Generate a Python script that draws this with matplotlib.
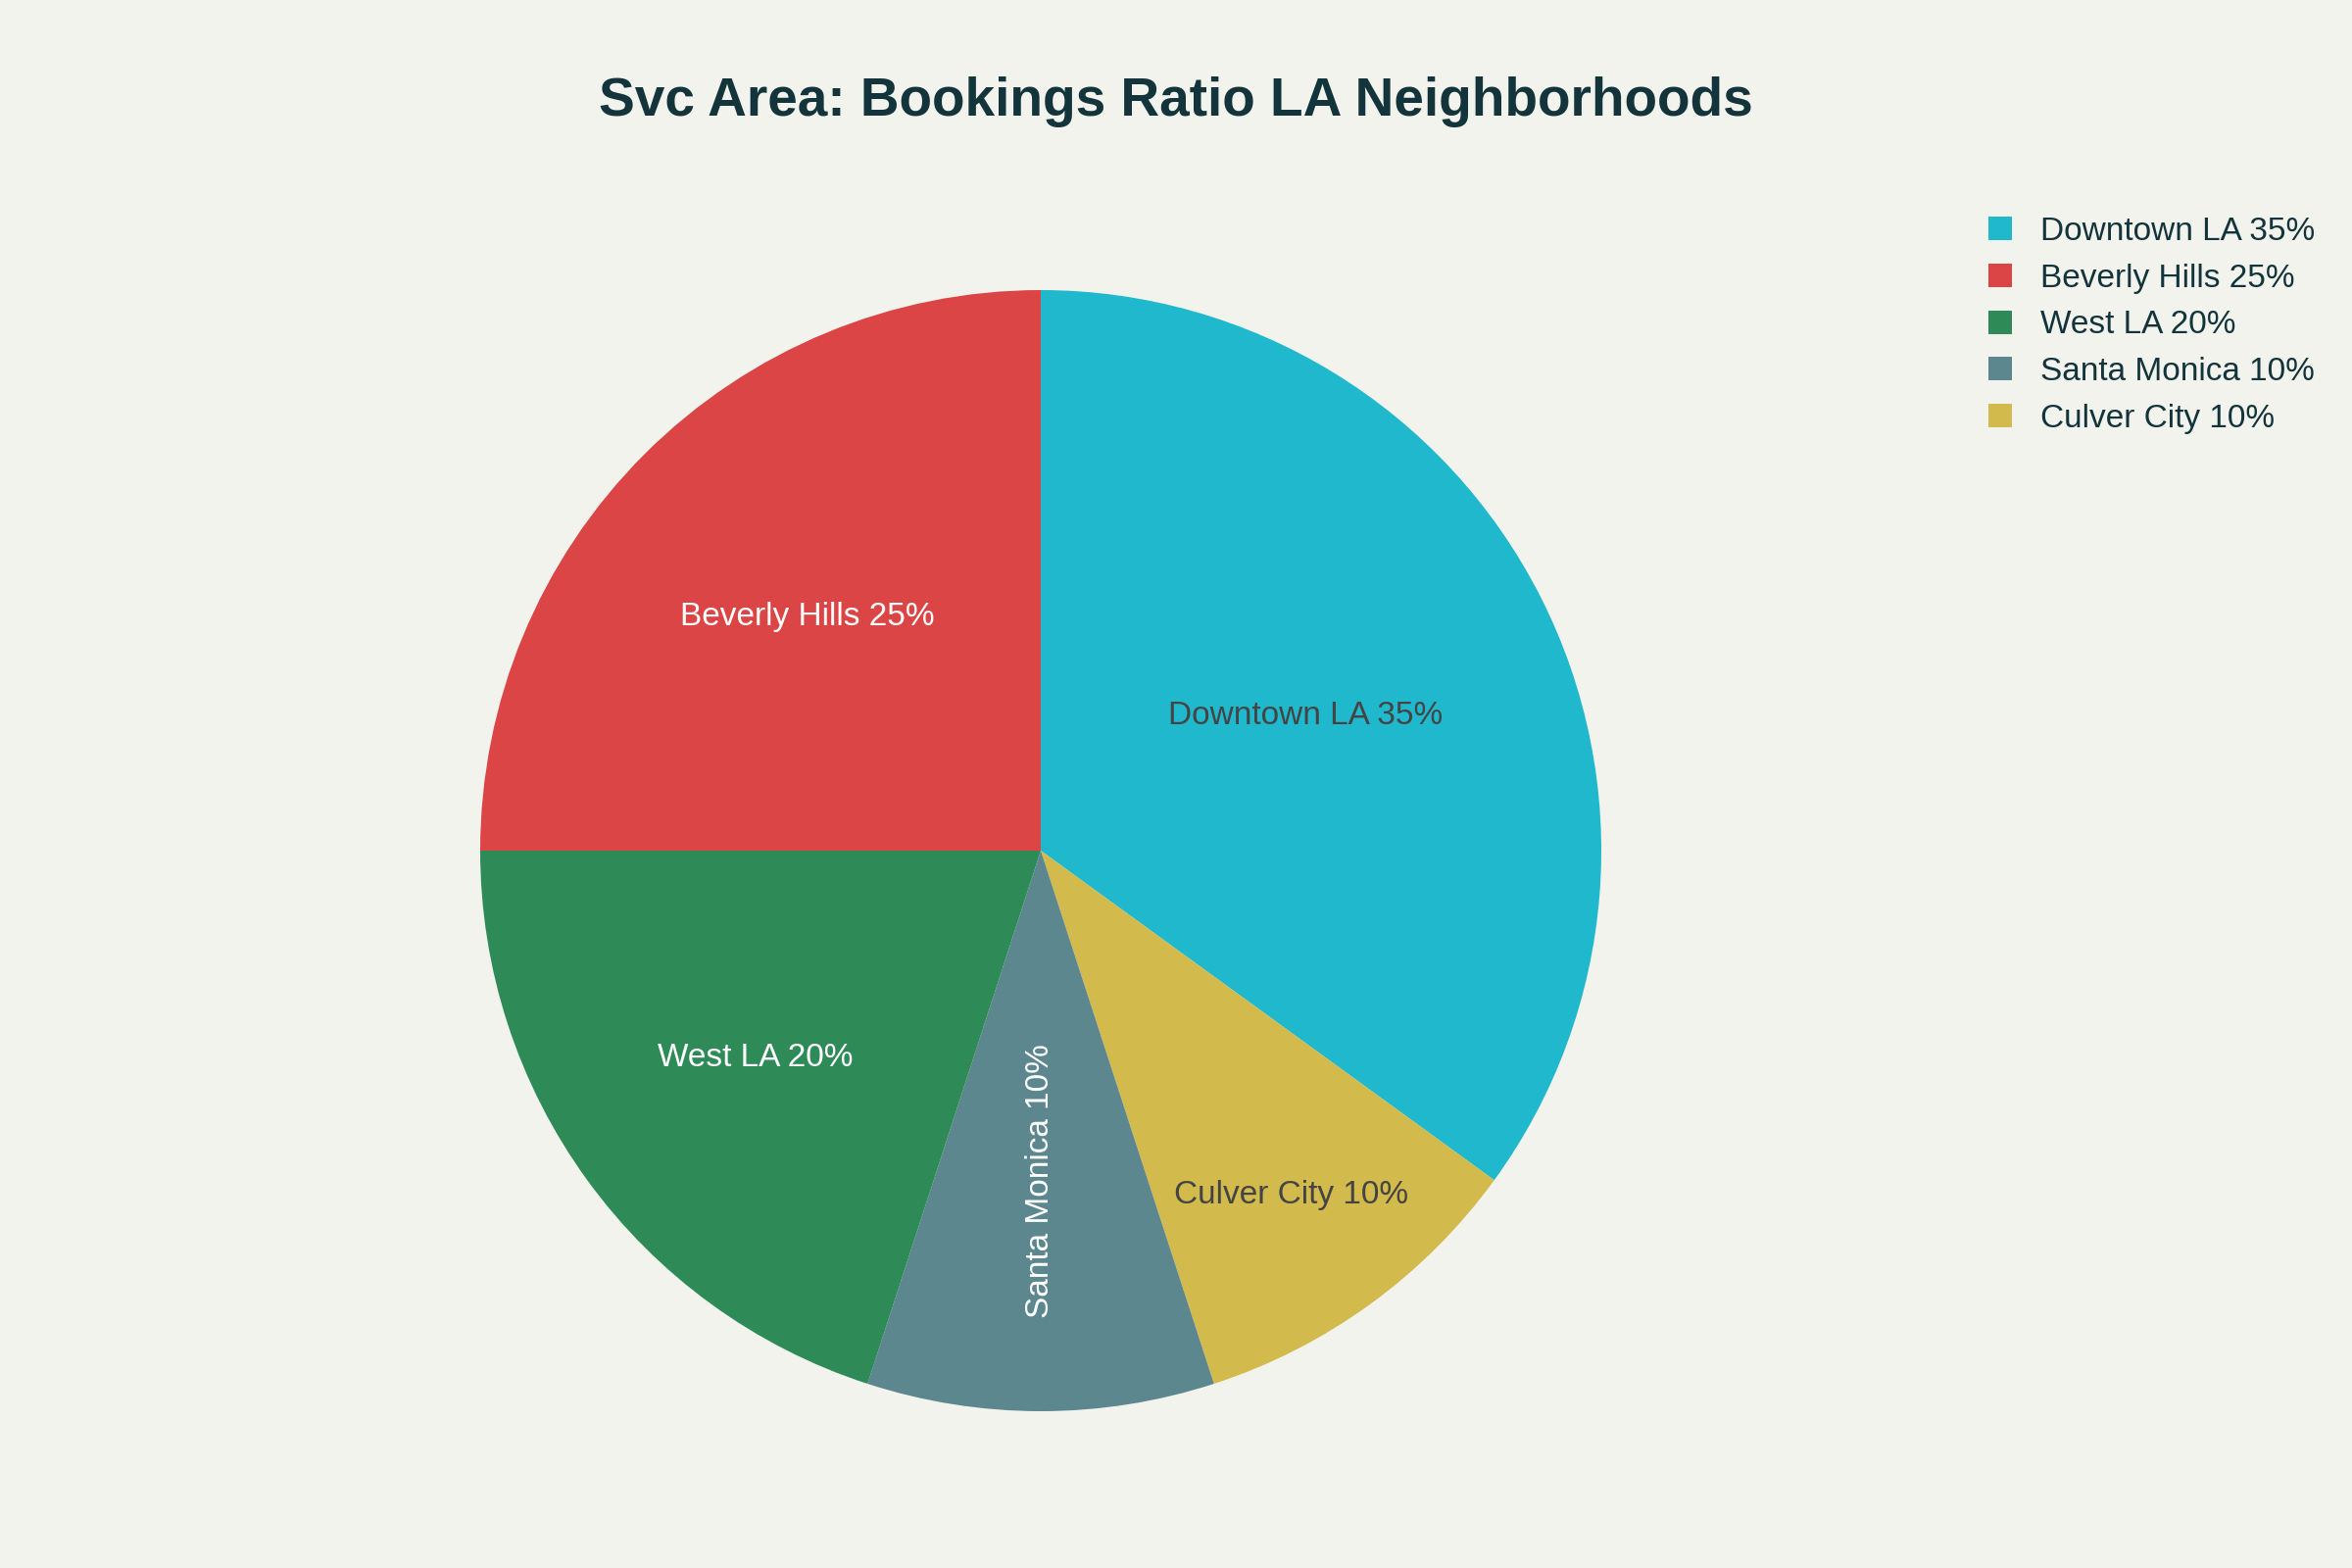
import matplotlib
matplotlib.use("Agg")
from matplotlib import pyplot as plt
from matplotlib.lines import Line2D
import numpy as np

# slices in drawing order (clockwise from 12 o'clock)
areas = ["Downtown LA", "Culver City", "Santa Monica", "West LA", "Beverly Hills"]
shares = [35, 10, 10, 20, 25]
colors = ["#1FB8CD", "#D2BA4C", "#5D878F", "#2E8B57", "#DB4545"]

# legend order
legend_order = ["Downtown LA", "Beverly Hills", "West LA", "Santa Monica", "Culver City"]

title = "Svc Area: Bookings Ratio LA Neighborhoods"

BG = "#F3F3EE"
TXT = "#13343B"

# label placement per slice (fraction of radius), colour and rotation
label_r = {"Downtown LA": 0.53, "Culver City": 0.76, "Santa Monica": 0.59,
           "West LA": 0.63, "Beverly Hills": 0.59}
label_c = {"Downtown LA": "#444444", "Culver City": "#444444", "Santa Monica": "white",
           "West LA": "white", "Beverly Hills": "white"}
label_rot = {"Santa Monica": 90}

W, H = 2400, 1600
fig = plt.figure(figsize=(12, 8), dpi=200, facecolor=BG)

cx, cy, r = 1062, 868, 572
ax = fig.add_axes([(cx - r) / W, (H - cy - r) / H, 2 * r / W, 2 * r / H])
ax.set_facecolor(BG)

wedges, _ = ax.pie(shares, colors=colors, startangle=90, counterclock=False,
                   radius=1, wedgeprops=dict(linewidth=0))
ax.set_xlim(-1, 1)
ax.set_ylim(-1, 1)
ax.set_aspect("equal")
ax.axis("off")

total = sum(shares)
start = 90.0
for name, val in zip(areas, shares):
    sweep = 360.0 * val / total
    mid = np.deg2rad(start - sweep / 2)
    start -= sweep
    rr = label_r[name]
    ax.text(rr * np.cos(mid), rr * np.sin(mid), f"{name} {val}%",
            ha="center", va="center", fontsize=12, family="Liberation Sans",
            color=label_c[name], rotation=label_rot.get(name, 0))

fig.text(1200 / W, 1 - 104 / H, title, ha="center", va="center",
         fontsize=19.8, fontweight="bold", family="Liberation Sans", color=TXT)

cmap = dict(zip(areas, colors))
vmap = dict(zip(areas, shares))
handles = [Line2D([0], [0], marker="s", linestyle="none", markersize=8.6,
                  markerfacecolor=cmap[n], markeredgewidth=0) for n in legend_order]
labels = [f"{n} {vmap[n]}%" for n in legend_order]
leg = fig.legend(handles, labels, loc="upper left",
                 bbox_to_anchor=(2024 / W, 1 - 221 / H), frameon=False,
                 prop=dict(family="Liberation Sans", size=12),
                 handlelength=1.0, handletextpad=0.75, labelspacing=0.5,
                 borderaxespad=0, borderpad=0)
for t in leg.get_texts():
    t.set_color(TXT)

fig.savefig("out.png", dpi=200, facecolor=BG)
